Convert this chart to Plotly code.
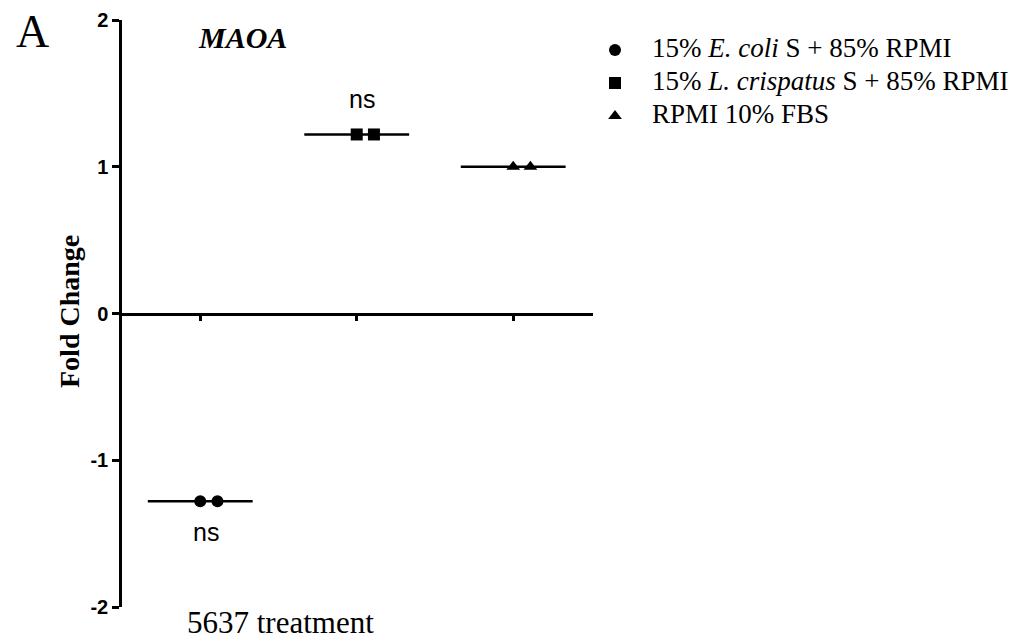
import plotly.graph_objects as go
import numpy as np

# ---------------- data ----------------
group_names = [
    "15% <i>E. coli</i> S + 85% RPMI",
    "15% <i>L. crispatus</i> S + 85% RPMI",
    "RPMI 10% FBS",
]
ecoli_values = [-1.28, -1.28]
lcrispatus_values = [1.22, 1.22]
rpmi_values = [1.00, 1.00]
group_values = [ecoli_values, lcrispatus_values, rpmi_values]
group_symbols = ["circle", "square", "triangle-up"]
sig_labels = ["ns", "ns", ""]
y_ticks = [-2, -1, 0, 1, 2]

# ---------------- layout constants (pixels) ----------------
W, H = 1022, 640
PX_L, PX_R = 122, 593        # plot area x-pixels
PX_T, PX_B = 20, 607         # plot area y-pixels (top=2, bottom=-2)
SERIF = "Liberation Serif, Times New Roman, serif"
SANS = "Liberation Sans, Arial, sans-serif"
point_offsets = [0.0, 0.11]
median_half = 0.335
LEG_MARK_X = 615
LEG_TEXT_X = 650
LEG_ROWS = [48, 81, 114]

fig = go.Figure()

for i, (name, vals, sym) in enumerate(zip(group_names, group_values, group_symbols)):
    xs = [i + o for o in point_offsets[:len(vals)]]
    med = float(np.median(vals))
    fig.add_trace(go.Scatter(
        x=[i - median_half, i + median_half], y=[med, med],
        mode="lines", line=dict(color="black", width=2.5),
        showlegend=False, hoverinfo="skip"))
    fig.add_trace(go.Scatter(
        x=xs, y=vals, mode="markers", name=name, showlegend=False,
        marker=dict(symbol=sym, size=12, color="black", line=dict(width=0))))
    if sig_labels[i]:
        yoff = 0.245 if med > 0 else -0.21
        fig.add_annotation(x=i + 0.035, y=med + yoff, xref="x", yref="y",
                           xanchor="center", yanchor="middle",
                           text=sig_labels[i], showarrow=False,
                           font=dict(family=SANS, size=25, color="black"))
    # manual legend entry (marker on a hidden pixel-overlay axis + text)
    ry = LEG_ROWS[i]
    fig.add_trace(go.Scatter(
        x=[LEG_MARK_X], y=[ry + 2], xaxis="x2", yaxis="y2", mode="markers",
        showlegend=False, hoverinfo="skip",
        marker=dict(symbol=sym, size=12, color="black", line=dict(width=0))))
    fig.add_annotation(x=LEG_TEXT_X, y=ry, xref="x2", yref="y2",
                       xanchor="left", yanchor="middle", text=name,
                       showarrow=False,
                       font=dict(family=SERIF, size=27, color="black"))

ydom = [(H - PX_B) / H, (H - PX_T) / H]

fig.update_layout(
    width=W, height=H,
    margin=dict(l=0, r=0, t=0, b=0, autoexpand=False),
    paper_bgcolor="white", plot_bgcolor="rgba(0,0,0,0)",
    showlegend=False,
    xaxis=dict(domain=[PX_L / W, PX_R / W], range=[-0.5, 2.51],
               anchor="free", position=(ydom[0] + ydom[1]) / 2,
               showline=True, linecolor="black", linewidth=2.5,
               ticks="outside", ticklen=6, tickwidth=2.5, tickcolor="black",
               tickvals=[0, 1, 2], ticktext=["", "", ""],
               showgrid=False, zeroline=False, automargin=False),
    yaxis=dict(domain=ydom, range=[-2, 2],
               showline=True, linecolor="black", linewidth=2.5,
               ticks="outside", ticklen=7, tickwidth=2.5, tickcolor="black",
               tickvals=y_ticks, ticktext=[str(t) for t in y_ticks],
               tickfont=dict(family=SANS, size=20, color="black", weight="bold"),
               showgrid=False, zeroline=False, automargin=False),
    xaxis2=dict(domain=[0, 1], range=[0, W], anchor="y2", visible=False,
                automargin=False),
    yaxis2=dict(domain=[0, 1], range=[H, 0], anchor="x2", visible=False,
                automargin=False),
)

fig.add_annotation(x=32 / W, y=1 - 31 / H, xref="paper", yref="paper",
                   xanchor="center", yanchor="middle", text="A", showarrow=False,
                   font=dict(family=SERIF, size=46, color="black"))
fig.add_annotation(x=242 / W, y=1 - 37 / H, xref="paper", yref="paper",
                   xanchor="center", yanchor="middle",
                   text="<b><i>MAOA</i></b>", showarrow=False,
                   font=dict(family=SERIF, size=30, color="black"))
fig.add_annotation(x=69 / W, y=1 - 312 / H, xref="paper", yref="paper",
                   xanchor="center", yanchor="middle",
                   text="<b>Fold Change</b>", textangle=-90, showarrow=False,
                   font=dict(family=SERIF, size=28, color="black"))
fig.add_annotation(x=280 / W, y=1 - 622 / H, xref="paper", yref="paper",
                   xanchor="center", yanchor="middle",
                   text="5637 treatment", showarrow=False,
                   font=dict(family=SERIF, size=31, color="black"))

fig.write_html("out.html")
